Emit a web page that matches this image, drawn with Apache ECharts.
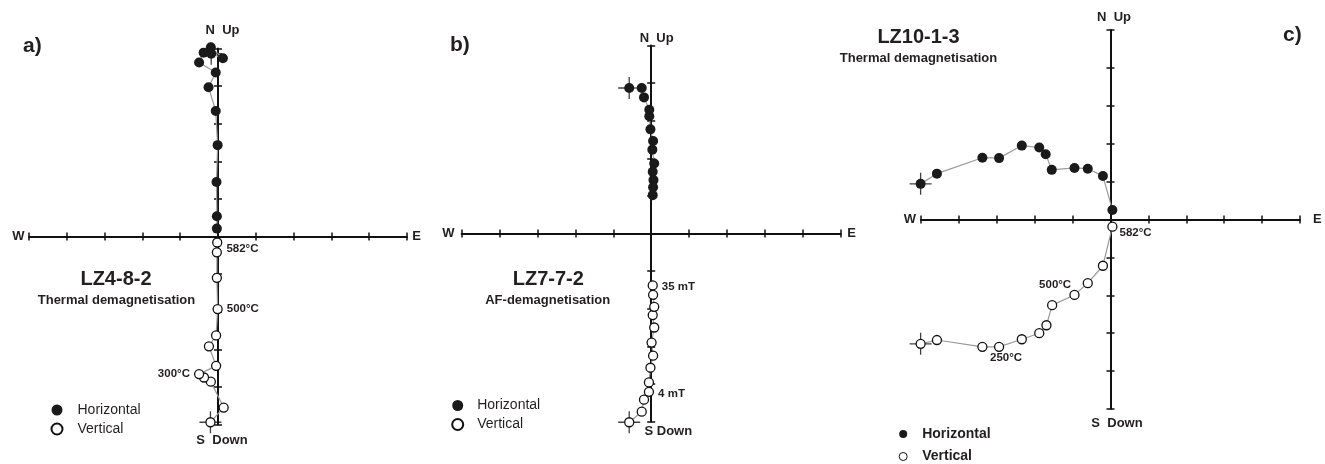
<!DOCTYPE html>
<html><head><meta charset="utf-8">
<script src="https://cdn.jsdelivr.net/npm/echarts@6/dist/echarts.min.js"></script>
<style>html,body{margin:0;padding:0;background:#fff}#c{width:1325px;height:464px}</style>
</head><body><div id="c"></div>
<script>
// ---------- DATA (units = axis ticks) ----------
// Panel a) LZ4-8-2, thermal
const aHorizE = [-0.18, 0.13, -0.19, -0.38, -0.50, -0.06, -0.25, -0.06, -0.01, -0.04, -0.03, -0.03];
const aHorizN = [4.86, 4.74, 5.03, 4.89, 4.63, 4.36, 3.97, 3.34, 2.43, 1.45, 0.54, 0.21];
const aVertE  = [-0.20, 0.15, -0.19, -0.37, -0.50, -0.05, -0.24, -0.05, -0.01, -0.03, -0.03, -0.02];
const aVertUp = [-4.94, -4.55, -3.86, -3.75, -3.66, -3.44, -2.92, -2.63, -1.93, -1.10, -0.42, -0.16];
const aVertLabels = ['', '', '', '', '300°C', '', '', '', '500°C', '', '', '582°C'];

// Panel b) LZ7-7-2, AF
const bHorizE = [-0.58, -0.25, -0.19, -0.05, -0.05, -0.02, 0.05, 0.03, 0.08, 0.04, 0.06, 0.05, 0.04];
const bHorizN = [3.87, 3.87, 3.62, 3.29, 3.12, 2.77, 2.46, 2.23, 1.86, 1.64, 1.42, 1.23, 1.02];
const bVertE  = [-0.58, -0.25, -0.19, -0.06, -0.06, -0.02, 0.05, 0.01, 0.08, 0.04, 0.08, 0.05, 0.04];
const bVertUp = [-5.02, -4.74, -4.42, -4.21, -3.96, -3.57, -3.25, -2.90, -2.50, -2.17, -1.95, -1.63, -1.38];
const bVertLabels = ['', '', '', '4 mT', '', '', '', '', '', '', '', '', '35 mT'];

// Panel c) LZ10-1-3, thermal
const cHorizE = [-5.01, -4.58, -3.38, -2.94, -2.34, -1.88, -1.71, -1.55, -0.95, -0.60, -0.20, 0.05];
const cHorizN = [0.94, 1.21, 1.63, 1.62, 1.95, 1.90, 1.72, 1.31, 1.36, 1.34, 1.15, 0.25];
const cVertE  = [-5.01, -4.58, -3.38, -2.94, -2.34, -1.88, -1.69, -1.54, -0.95, -0.60, -0.20, 0.05];
const cVertUp = [-3.28, -3.18, -3.36, -3.36, -3.16, -3.00, -2.79, -2.26, -1.99, -1.68, -1.22, -0.19];
const cVertLabels = ['', '', '', '250°C', '', '', '', '500°C', '', '', '', '582°C'];

const axisMin = -5, axisMax = 5, axisStep = 1;

// ---------- LAYOUT / STYLE ----------
const FONT = 'Liberation Sans, Arial, Helvetica, sans-serif';
const INK = '#231f20';
const panels = [
  { hE: aHorizE, hN: aHorizN, vE: aVertE, vU: aVertUp, vL: aVertLabels,
    grid: { left: 29, top: 48.5, width: 378, height: 376 },
    labelCfg: { 4: { position: 'left' }, 8: { position: 'right' }, 11: { position: 'right', offset: [0, 6] } } },
  { hE: bHorizE, hN: bHorizN, vE: bVertE, vU: bVertUp, vL: bVertLabels,
    grid: { left: 461.7, top: 45.5, width: 379, height: 376 },
    labelCfg: { 3: { position: 'right', offset: [0, 2] }, 12: { position: 'right', offset: [0, 1] } } },
  { hE: cHorizE, hN: cHorizN, vE: cVertE, vU: cVertUp, vL: cVertLabels,
    grid: { left: 921, top: 30, width: 379, height: 379 },
    labelCfg: { 3: { position: 'bottom', offset: [7, -4] }, 7: { position: 'top', offset: [3, -5] }, 11: { position: 'right', offset: [-2, 6] } } }
];

const grids = [], xAxes = [], yAxes = [], series = [];
const plusPath = 'path://M0,11 L22,11 M11,0 L11,22';

panels.forEach((p, i) => {
  grids.push(Object.assign({ containLabel: false }, p.grid));
  const base = {
    type: 'value', min: axisMin, max: axisMax, interval: axisStep, gridIndex: i,
    axisLabel: { show: false }, splitLine: { show: false }
  };
  // two axes per direction: one with ticks inside, one outside -> crossing ticks
  [true, false].forEach((inside, k) => {
    xAxes.push(Object.assign({}, base, {
      position: 'bottom',
      axisLine: { show: k === 0, onZero: true, onZeroAxisIndex: 2 * i, lineStyle: { color: '#111', width: 2 } },
      axisTick: { show: true, inside: inside, length: 4, lineStyle: { color: '#111', width: 1.5 } }
    }));
    yAxes.push(Object.assign({}, base, {
      position: 'left',
      axisLine: { show: k === 0, onZero: true, onZeroAxisIndex: 2 * i, lineStyle: { color: '#111', width: 2 } },
      axisTick: { show: true, inside: inside, length: 4, lineStyle: { color: '#111', width: 1.5 } }
    }));
  });

  const hData = p.hE.map((e, j) => [e, p.hN[j]]);
  const vData = p.vE.map((e, j) => {
    const item = { value: [e, p.vU[j]] };
    if (p.vL[j]) {
      const cfg = p.labelCfg[j] || { position: 'right' };
      item.label = Object.assign({
        show: true, formatter: p.vL[j], color: INK,
        fontFamily: FONT, fontWeight: 'bold', fontSize: 11.5, distance: 4
      }, cfg);
    }
    return item;
  });

  // start markers (crosses) behind the first points
  series.push({
    type: 'scatter', xAxisIndex: 2 * i, yAxisIndex: 2 * i, z: 1, silent: true, clip: false,
    symbol: plusPath, symbolSize: 22,
    itemStyle: { color: 'none', borderColor: '#111', borderWidth: 1.3 },
    data: [hData[0], vData[0].value]
  });
  series.push({
    name: 'Horizontal', type: 'line', xAxisIndex: 2 * i, yAxisIndex: 2 * i, z: 3, clip: false,
    data: hData, symbol: 'circle', symbolSize: 10, showAllSymbol: true,
    lineStyle: { color: '#9a9a9a', width: 1.2 },
    itemStyle: { color: '#1a1a1a', borderColor: '#1a1a1a', borderWidth: 0 },
    emphasis: { disabled: true }, animation: false
  });
  series.push({
    name: 'Vertical', type: 'line', xAxisIndex: 2 * i, yAxisIndex: 2 * i, z: 3, clip: false,
    data: vData, symbol: 'circle', symbolSize: 9, showAllSymbol: true,
    lineStyle: { color: '#9a9a9a', width: 1.2 },
    itemStyle: { color: '#ffffff', borderColor: '#111', borderWidth: 1.3 },
    emphasis: { disabled: true }, animation: false
  });
});

function legendCfg(left, top, iconSize, gap, bold, padLeft, vBorder) {
  return {
    orient: 'vertical', left: left, top: top, padding: 0, itemGap: gap,
    itemWidth: iconSize, itemHeight: iconSize, icon: 'circle', selectedMode: false,
    textStyle: { fontFamily: FONT, fontSize: 14, lineHeight: 14, color: INK,
                 fontWeight: bold ? 'bold' : 'normal', padding: [0, 0, 0, padLeft] },
    data: [
      { name: 'Horizontal', itemStyle: { color: '#1a1a1a', borderWidth: 0 } },
      { name: 'Vertical', itemStyle: { color: '#fff', borderColor: '#111', borderWidth: vBorder } }
    ]
  };
}

function txt(x, y, text, size, bold, align) {
  return { type: 'text', x: x, y: y, silent: true,
    style: { text: text, fill: INK, font: (bold ? 'bold ' : '') + size + 'px ' + FONT,
             align: align || 'center', verticalAlign: 'middle' } };
}

const graphics = [
  // a)
  txt(23, 46, 'a)', 21, true, 'left'),
  txt(222.5, 30, 'N  Up', 13, true),
  txt(18.5, 236.5, 'W', 13, true),
  txt(416.5, 236.5, 'E', 13, true),
  txt(222, 440, 'S  Down', 13, true),
  txt(116, 279.5, 'LZ4-8-2', 20, true),
  txt(116.5, 300, 'Thermal demagnetisation', 13, true),
  // b)
  txt(450, 45, 'b)', 21, true, 'left'),
  txt(656.7, 38, 'N  Up', 13, true),
  txt(448.3, 233.5, 'W', 13, true),
  txt(851.7, 233.5, 'E', 13, true),
  txt(668.3, 431, 'S Down', 13, true),
  txt(548.3, 279.5, 'LZ7-7-2', 20, true),
  txt(547.7, 300, 'AF-demagnetisation', 13, true),
  // c)
  txt(1283, 35, 'c)', 21, true, 'left'),
  txt(1114, 17, 'N  Up', 13, true),
  txt(910, 219.5, 'W', 13, true),
  txt(1317.3, 219.5, 'E', 13, true),
  txt(1117, 423.3, 'S  Down', 13, true),
  txt(918.5, 37, 'LZ10-1-3', 20, true),
  txt(918.5, 58, 'Thermal demagnetisation', 13, true)
];

const chart = echarts.init(document.getElementById('c'), null, { renderer: 'canvas' });
chart.setOption({
  animation: false,
  backgroundColor: '#fff',
  grid: grids, xAxis: xAxes, yAxis: yAxes, series: series,
  legend: [
    legendCfg(50.5, 403, 11, 5, false, 10, 2),
    legendCfg(451.2, 398.5, 11, 5, false, 9, 2),
    legendCfg(898.7, 427, 8, 8.5, true, 10, 1)
  ],
  graphic: graphics
});
</script></body></html>
